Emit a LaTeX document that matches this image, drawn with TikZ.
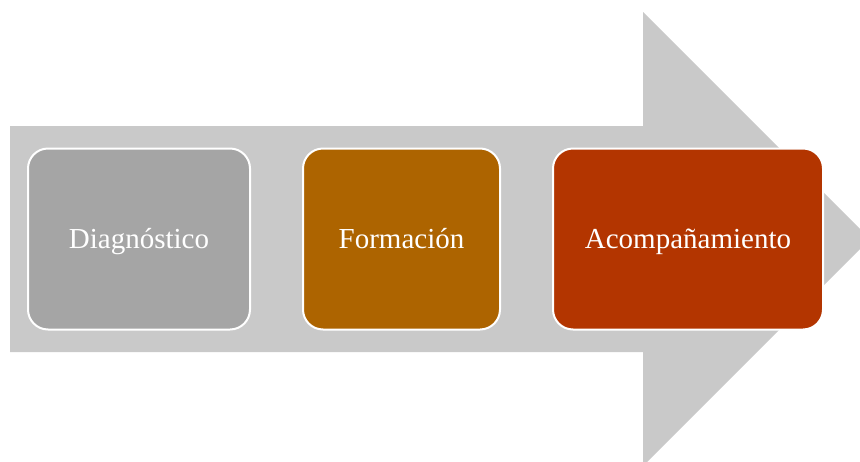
\documentclass[tikz,border=0pt]{standalone}
\usepackage{fontspec}
\setmainfont{Liberation Serif}
\usetikzlibrary{positioning}
\definecolor{bandgray}{HTML}{C9C9C9}
\definecolor{diaggray}{HTML}{A5A5A5}
\definecolor{formbrown}{HTML}{AD6400}
\definecolor{acompred}{HTML}{B33500}
\tikzset
{
	stagebox/.style = {rectangle, draw=white, line width=2pt, rounded corners=20pt, minimum height=181pt, inner sep=0pt, text=white, align=center, text height=23pt, text depth=4pt, font=\fontsize{29}{34}\selectfont},
	band/.style = {fill=bandgray}
}

\begin{document}
\begin{tikzpicture}[x=1pt, y=-1pt, node distance=51pt]
\clip (0,0) rectangle (860,461);
% big arrow behind the stages
\fill[band] (10,126) -- (643,126) -- (643,12) -- (870,239) -- (643,466) -- (643,352) -- (10,352) -- cycle;
\node[stagebox, fill=diaggray, minimum width=222pt, anchor=west] (diag) at (27,239) {Diagnóstico};
\node[stagebox, fill=formbrown, minimum width=197pt, right=of diag] (form) {Formación};
\node[stagebox, fill=acompred, minimum width=270pt, right=of form] (acomp) {Acompañamiento};
\end{tikzpicture}
\end{document}
